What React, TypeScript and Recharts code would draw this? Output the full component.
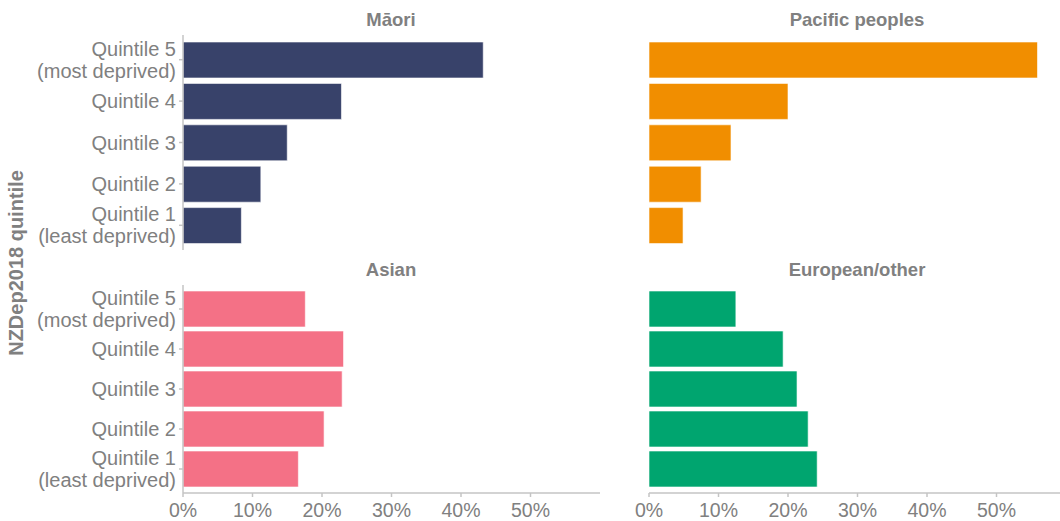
import React from "react";
import { BarChart, Bar, XAxis, YAxis } from "recharts";

const QUINTILES = ["Quintile 5|(most deprived)", "Quintile 4", "Quintile 3", "Quintile 2", "Quintile 1|(least deprived)"];
const X_TICKS = [0, 10, 20, 30, 40, 50];

const MAORI = [43.2, 22.8, 15.0, 11.2, 8.4];
const PACIFIC = [55.9, 20.0, 11.8, 7.5, 4.9];
const ASIAN = [17.6, 23.1, 22.9, 20.3, 16.6];
const EUROPEAN = [12.5, 19.3, 21.3, 22.9, 24.2];

const GREY_TEXT = "#808080";
const GREY_LINE = "#c4c4c4";
const FONT = "'Liberation Sans', Arial, Helvetica, sans-serif";

const toRows = (values: number[]) => QUINTILES.map((label, i) => ({ label, value: values[i] }));

function QuintileTick(props: any) {
  const { x, y, payload } = props;
  const lines = String(payload.value).split("|");
  const first = lines.length === 1 ? 7 : -4;
  return (
    <text x={x} y={y} textAnchor="end" fill={GREY_TEXT} fontSize={20} fontFamily={FONT}>
      {lines.map((line, i) => (
        <tspan key={i} x={x} y={y + first + i * 22}>
          {line}
        </tspan>
      ))}
    </text>
  );
}

interface PanelProps {
  values: number[];
  color: string;
  left: number;
  top: number;
  width: number;
  height: number;
  showY: boolean;
  showX: boolean;
}

function Panel({ values, color, left, top, width, height, showY, showX }: PanelProps) {
  const data = toRows(values);
  return (
    <div style={{ position: "absolute", left, top }}>
      <BarChart
        width={width}
        height={height}
        data={data}
        layout="vertical"
        margin={{ top: 35, right: showY ? 5 : 0, left: showY ? 0 : 44, bottom: 0 }}
        style={{ overflow: "visible" }}
      >
        <XAxis
          type="number"
          domain={[0, 60]}
          ticks={X_TICKS}
          hide={!showX}
          height={28}
          tickFormatter={(v) => `${v}%`}
          axisLine={{ stroke: GREY_LINE, strokeWidth: 1.5 }}
          tickLine={{ stroke: GREY_LINE, strokeWidth: 1.5 }}
          tickSize={4}
          tickMargin={6}
          tick={{ fill: GREY_TEXT, fontSize: 19.5, fontFamily: FONT }}
        />
        <YAxis
          type="category"
          dataKey="label"
          hide={!showY}
          width={183}
          padding={{ top: 4, bottom: 4 }}
          axisLine={{ stroke: GREY_LINE, strokeWidth: 1.5 }}
          tickLine={{ stroke: GREY_LINE, strokeWidth: 1.5 }}
          tickSize={4}
          tickMargin={3}
          interval={0}
          tick={<QuintileTick />}
        />
        <Bar dataKey="value" fill={color} barSize={36} stroke="#ffffff" strokeWidth={0.6} isAnimationActive={false} />
      </BarChart>
    </div>
  );
}

const titleStyle: React.CSSProperties = {
  position: "absolute",
  transform: "translateX(-50%)",
  fontFamily: FONT,
  fontWeight: "bold",
  fontSize: 18.5,
  lineHeight: "21px",
  color: GREY_TEXT,
  whiteSpace: "nowrap",
};

export default function App() {
  return (
    <div
      style={{
        position: "absolute",
        left: 0,
        top: 0,
        width: 1060,
        height: 521,
        overflow: "hidden",
        background: "#ffffff",
      }}
    >
      <Panel values={MAORI} color="#38426a" left={0} top={0} width={605} height={250} showY showX={false} />
      <Panel values={PACIFIC} color="#f18e00" left={605} top={0} width={461} height={250} showY={false} showX={false} />
      <Panel values={ASIAN} color="#f47186" left={0} top={250} width={605} height={271} showY showX />
      <Panel values={EUROPEAN} color="#00a56f" left={605} top={250} width={461} height={271} showY={false} showX />

      <div style={{ ...titleStyle, left: 391, top: 9 }}>Māori</div>
      <div style={{ ...titleStyle, left: 857, top: 9 }}>Pacific peoples</div>
      <div style={{ ...titleStyle, left: 391, top: 259 }}>Asian</div>
      <div style={{ ...titleStyle, left: 857, top: 259 }}>European/other</div>

      <div
        style={{
          position: "absolute",
          left: 16,
          top: 263,
          transform: "translate(-50%, -50%) rotate(-90deg)",
          fontFamily: FONT,
          fontWeight: "bold",
          fontSize: 20,
          lineHeight: "22px",
          color: GREY_TEXT,
          whiteSpace: "nowrap",
        }}
      >
        NZDep2018 quintile
      </div>
    </div>
  );
}
